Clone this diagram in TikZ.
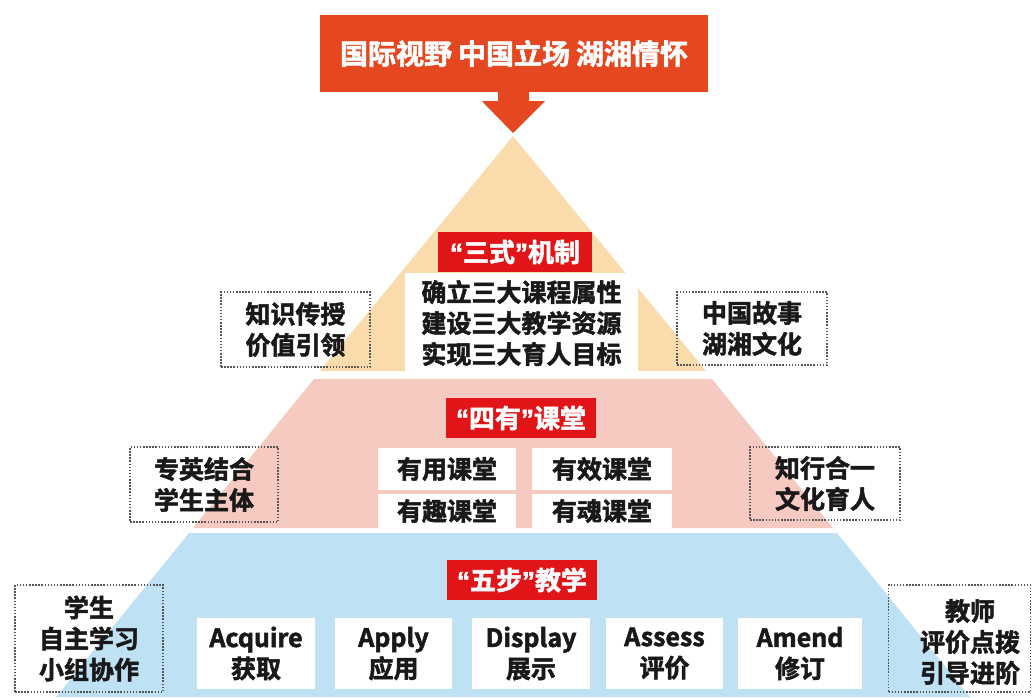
\documentclass[tikz,border=0pt]{standalone}
\usepackage{fontspec}
\usetikzlibrary{calc}
\newfontfamily\cjkb{Noto Sans CJK SC Bold}[FakeBold=2]
\newfontfamily\latq{Liberation Sans}[FakeBold=2]
\newcommand{\qo}{{\latq\bfseries “}}
\newcommand{\qc}{{\latq\bfseries ”}}
\definecolor{banner}{RGB}{229,72,33}
\definecolor{labred}{RGB}{225,20,24}
\definecolor{beige}{RGB}{250,219,172}
\definecolor{pinkt}{RGB}{246,201,193}
\definecolor{bluet}{RGB}{190,225,243}
\definecolor{ink}{RGB}{25,25,25}
\definecolor{dotc}{RGB}{85,85,85}
\tikzset{
  txt/.style={font=\cjkb\fontsize{25}{31}\selectfont, text=ink, align=center, inner sep=0pt},
  redlab/.style={fill=labred, draw=none, text=white, font=\cjkb\fontsize{26}{30}\selectfont, inner sep=0pt},
  whitebox/.style={fill=white, draw=none, txt},
  dotbox/.style={draw=dotc, line width=1.6pt, dash pattern=on 1.5pt off 1.6pt, txt},
}
\begin{document}
\begin{tikzpicture}[x=1pt,y=-1pt]
\useasboundingbox (0,0) rectangle (1033,697);
\fill[white] (0,0) rectangle (1033,697);
% pyramid tiers
\fill[beige] (513,136) -- (706,371) -- (320,371) -- cycle;
\fill[pinkt] (314,379) -- (712,379) -- (833,528) -- (193,528) -- cycle;
\fill[bluet] (189,533) -- (837,533) -- (970,697) -- (56,697) -- cycle;
% banner and arrow
\node[fill=banner, text=white, font=\cjkb\fontsize{28}{32}\selectfont, minimum width=388, minimum height=77, inner sep=0pt] (banner) at (514,53.5) {国际视野\hspace{6pt}中国立场\hspace{6pt}湖湘情怀};
\coordinate (tip) at (513,133);
\fill[banner] ($(banner.south)+(-16,-1)$) -- ($(banner.south)+(-16,9)$) -- ($(banner.south)+(-32,9)$) -- (tip)
  -- ($(banner.south)+(31,9)$) -- ($(banner.south)+(15,9)$) -- ($(banner.south)+(15,-1)$) -- cycle;
% tier 1
\node[redlab, minimum width=154, minimum height=40] (sanshi) at (515,252) {\qo 三式\qc 机制};
\node[whitebox, minimum width=233, minimum height=100] (sanbox) at (521.5,323) {确立三大课程属性\\建设三大教学资源\\实现三大育人目标};
\node[dotbox, minimum width=149, minimum height=75] (l1) at (295.5,329.5) {知识传授\\价值引领};
\node[dotbox, minimum width=150, minimum height=73] (r1) at (752,328.5) {中国故事\\湖湘文化};
% tier 2
\node[redlab, minimum width=150, minimum height=40] (siyou) at (521,418) {\qo 四有\qc 课堂};
\node[whitebox, minimum width=138, minimum height=42] (yy) at (447,469) {有用课堂};
\node[whitebox, minimum width=140, minimum height=42] (yx) at (602,469) {有效课堂};
\node[whitebox, minimum width=138, minimum height=34] (yq) at (447,511) {有趣课堂};
\node[whitebox, minimum width=140, minimum height=34] (yh) at (602,511) {有魂课堂};
\node[dotbox, minimum width=148, minimum height=75] (l2) at (204,484.5) {专英结合\\学生主体};
\node[dotbox, minimum width=150, minimum height=73] (r2) at (825,483.5) {知行合一\\文化育人};
% tier 3
\node[redlab, minimum width=150, minimum height=40] (wubu) at (522,580) {\qo 五步\qc 教学};
\node[whitebox, minimum width=118, minimum height=71] (acq) at (256,653.5) {Acquire\\获取};
\node[whitebox, minimum width=117, minimum height=71] (app) at (393.5,653.5) {Apply\\应用};
\node[whitebox, minimum width=118, minimum height=71] (dis) at (531,653.5) {Display\\展示};
\node[whitebox, minimum width=117, minimum height=71] (ass) at (664.5,653.5) {Assess\\评价};
\node[whitebox, minimum width=124, minimum height=71] (ame) at (800,653.5) {Amend\\修订};
\node[dotbox, minimum width=148, minimum height=107] (l3) at (89,638.5) {学生\\自主学习\\小组协作};
\node[dotbox, minimum width=142, minimum height=107] (r3box) at (959.5,638.5) {};
\node[txt] (r3) at (970,642) {教师\\评价点拨\\引导进阶};
\end{tikzpicture}
\end{document}
